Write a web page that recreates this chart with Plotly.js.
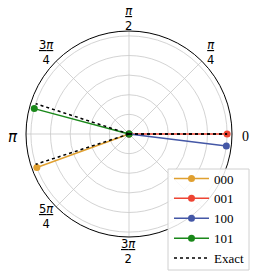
<!DOCTYPE html>
<html>
<head>
<meta charset="utf-8">
<script src="https://cdn.plot.ly/plotly-3.0.1.min.js"></script>
<style>html,body{margin:0;padding:0;background:#fff;}#chart{width:257px;height:277px;}</style>
</head>
<body>
<div id="chart"></div>
<script>
// states and measured phases (degrees), amplitudes
const states = ['000', '001', '100', '101'];
const phases = [200, 0, -7, 165];
const amplitudes = [1, 1, 1, 1];
const colors = ['#E0A030', '#EE4433', '#4457A6', '#1A881A'];
// exact phases (degrees)
const exactPhases = [198, 0, 0, 162];
const exactAmps = [1, 1, 1, 1];
// angular ticks (the 7π/4 label is hidden under the legend in the reference)
const angTickVals = [0, 45, 90, 135, 180, 225, 270, 315];
const angTickLabels = ['0', 'π/4', 'π/2', '3π/4', 'π', '5π/4', '3π/2', ''];
const radialTicks = [0.2, 0.4, 0.6, 0.8, 1.0];

const W = 257, H = 277;
const CX = 129, CY = 134, R = 103;      // polar centre and radius in pixels
const LABEL_R = 116.5;                   // distance of angular labels from centre

const traces = states.map((s, i) => ({
  type: 'scatterpolar', mode: 'lines+markers', name: s,
  r: [0, amplitudes[i]], theta: [0, phases[i]],
  line: {color: colors[i], width: 1.5},
  marker: {color: colors[i], size: 7},
  hoverinfo: 'skip'
}));
const er = [], et = [];
exactPhases.forEach((p, i) => { er.push(0, exactAmps[i], null); et.push(0, p, null); });
traces.push({
  type: 'scatterpolar', mode: 'lines', name: 'Exact', r: er, theta: et,
  line: {color: '#000', width: 1.5, dash: 'dot'}, connectgaps: false, hoverinfo: 'skip'
});

function piText(s) { return s.replace('π', '<i>π</i>'); }
const annotations = [];
angTickVals.forEach((a, i) => {
  const lab = angTickLabels[i];
  if (!lab) return;
  const rad = a * Math.PI / 180;
  const lx = CX + LABEL_R * Math.cos(rad);
  const ly = CY - LABEL_R * Math.sin(rad);
  const base = {xref: 'paper', yref: 'paper', showarrow: false, xanchor: 'center', yanchor: 'middle', align: 'center'};
  if (lab.indexOf('/') >= 0) {
    const [num, den] = lab.split('/');
    annotations.push(Object.assign({}, base, {
      x: lx / W, y: 1 - (ly + 0.5) / H, text: '<u>' + piText(num) + '</u><br>' + den,
      font: {family: 'DejaVu Sans', size: 11.5, color: '#000'}
    }));
  } else if (lab === '0') {
    annotations.push(Object.assign({}, base, {
      x: lx / W, y: 1 - (ly + 3) / H, text: lab,
      font: {family: 'Liberation Serif', size: 14, color: '#000'}
    }));
  } else {
    annotations.push(Object.assign({}, base, {
      x: lx / W, y: 1 - (ly + 3) / H, text: piText(lab),
      font: {family: 'DejaVu Sans', size: 15, color: '#000'}
    }));
  }
});

// legend frame (pixels): left, top, right, bottom
const LEG = [168, 169, 249, 270];

const layout = {
  width: W, height: H,
  margin: {l: 0, r: 0, t: 0, b: 0, autoexpand: false},
  paper_bgcolor: '#fff',
  font: {family: 'DejaVu Sans', size: 12, color: '#000'},
  showlegend: true,
  legend: {
    x: (LEG[0] + 1) / W, y: 3.5 / H, xanchor: 'left', yanchor: 'bottom',
    bgcolor: 'rgba(0,0,0,0)', borderwidth: 0,
    font: {family: 'Liberation Serif', size: 13, color: '#000'},
    itemwidth: 35, tracegroupgap: 0
  },
  shapes: [{
    type: 'rect', xref: 'paper', yref: 'paper', layer: 'above',
    x0: LEG[0] / W, x1: LEG[2] / W, y0: 1 - LEG[3] / H, y1: 1 - LEG[1] / H,
    fillcolor: 'rgba(255,255,255,0.85)', line: {color: '#d0d0d0', width: 1}
  }],
  annotations: annotations,
  polar: {
    domain: {x: [(CX - R)/W, (CX + R)/W], y: [1 - (CY + R)/H, 1 - (CY - R)/H]},
    bgcolor: '#fff',
    radialaxis: {
      range: [0, 1.05], tickvals: radialTicks, showticklabels: false,
      gridcolor: '#c8c8c8', gridwidth: 0.8, showline: false, ticks: ''
    },
    angularaxis: {
      direction: 'counterclockwise', rotation: 0,
      tickmode: 'array', tickvals: angTickVals, showticklabels: false,
      gridcolor: '#c8c8c8', gridwidth: 0.8,
      showline: true, linecolor: '#000', linewidth: 1, ticks: ''
    }
  }
};
Plotly.newPlot('chart', traces, layout, {staticPlot: true});
</script>
</body>
</html>
